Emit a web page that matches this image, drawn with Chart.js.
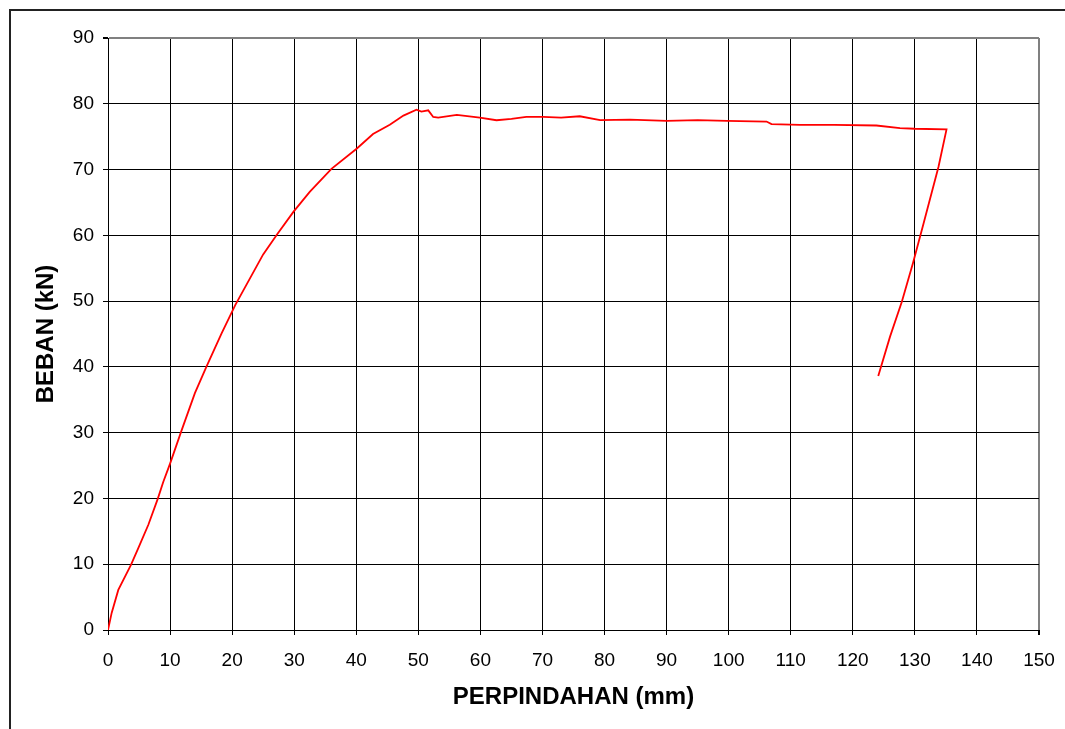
<!DOCTYPE html>
<html>
<head>
<meta charset="utf-8">
<script src="https://cdn.jsdelivr.net/npm/chart.js@4/dist/chart.umd.min.js"></script>
<style>
  html, body { margin: 0; padding: 0; background: #fff; }
  #wrap { position: relative; width: 1065px; height: 729px; overflow: hidden; }
  #frame { position: absolute; left: 9px; top: 9px; width: 1100px; height: 800px;
           border-left: 2px solid #222; border-top: 2px solid #222; box-sizing: border-box; }
  canvas { position: absolute; left: 0; top: 0; }
</style>
</head>
<body>
<div id="wrap">
  <div id="frame"></div>
  <canvas id="c" width="1065" height="729"></canvas>
</div>
<script>
const disp = [0, 0.59, 1.66, 3.7, 4.9, 6.5, 8.0, 8.9, 10.0, 11.8, 14.0, 15.9, 18.3, 20.5, 25.0, 27.2, 29.9, 32.5, 36.0, 40.1, 42.7, 45.4, 47.6, 49.7, 50.5, 51.6, 52.4, 53.2, 56.2, 59.9, 62.6, 65.0, 67.4, 70.1, 73.0, 76.0, 79.3, 84.1, 90.0, 95.0, 99.7, 106.1, 106.9, 111.5, 117.0, 123.8, 127.6, 130.0, 135.1, 133.8, 131.4, 129.7, 127.9, 126.0, 124.1];
const load = [0, 2.6, 6.1, 9.9, 12.5, 16.0, 19.9, 22.5, 25.3, 30.2, 36.0, 40.1, 45.1, 49.4, 57.1, 60.1, 63.6, 66.6, 70.1, 73.2, 75.4, 76.8, 78.2, 79.1, 78.8, 79.0, 78.0, 77.9, 78.3, 77.9, 77.5, 77.7, 78.0, 78.0, 77.9, 78.1, 77.5, 77.6, 77.4, 77.5, 77.4, 77.3, 76.9, 76.8, 76.8, 76.7, 76.3, 76.2, 76.1, 70.4, 61.8, 55.8, 49.9, 44.6, 38.6];
const xTitle = 'PERPINDAHAN (mm)';
const yTitle = 'BEBAN (kN)';
const xMin = 0, xMax = 150, xStep = 10;
const yMin = 0, yMax = 90, yStep = 10;

const points = disp.map((d, i) => ({ x: d, y: load[i] }));
const FONT = '"Liberation Sans", Arial, sans-serif';

new Chart(document.getElementById('c'), {
  type: 'scatter',
  data: {
    datasets: [{
      data: points,
      showLine: true,
      borderColor: '#ff0000',
      borderWidth: 1.8,
      pointRadius: 0,
      pointHoverRadius: 0,
      tension: 0,
      fill: false
    }]
  },
  options: {
    responsive: false,
    animation: false,
    events: [],
    layout: { padding: { left: 0, top: 38, right: 26, bottom: 0 } },
    plugins: { legend: { display: false }, tooltip: { enabled: false } },
    scales: {
      x: {
        type: 'linear', min: xMin, max: xMax,
        ticks: { stepSize: xStep, color: '#000', font: { family: FONT, size: 19 }, padding: 14, maxRotation: 0 },
        grid: {
          color: ctx => ctx.tick && ctx.tick.value === xMax ? '#808080' : '#000',
          lineWidth: ctx => ctx.tick && ctx.tick.value === xMax ? 2 : 1,
          tickColor: '#000', tickLength: 5, drawTicks: true
        },
        border: { color: '#000', width: 1 },
        title: { display: true, text: xTitle, color: '#000', font: { family: FONT, size: 24, weight: 'bold' }, padding: { top: 4, bottom: 17 } },
        afterFit: s => { s.height = 99; s.paddingLeft = 0; s.paddingRight = 0; }
      },
      y: {
        type: 'linear', min: yMin, max: yMax,
        ticks: { stepSize: yStep, color: '#000', font: { family: FONT, size: 19 }, padding: 9 },
        grid: {
          color: ctx => ctx.tick && ctx.tick.value === yMax ? '#808080' : '#000',
          lineWidth: ctx => ctx.tick && ctx.tick.value === yMax ? 2 : 1,
          tickColor: '#000', tickLength: 5, drawTicks: true
        },
        border: { color: '#000', width: 1 },
        title: { display: true, text: yTitle, color: '#000', font: { family: FONT, size: 24, weight: 'bold' }, padding: { top: 32, bottom: 0 } },
        afterFit: s => { s.width = 108; s.paddingTop = 0; s.paddingBottom = 0; }
      }
    }
  }
});
</script>
</body>
</html>
